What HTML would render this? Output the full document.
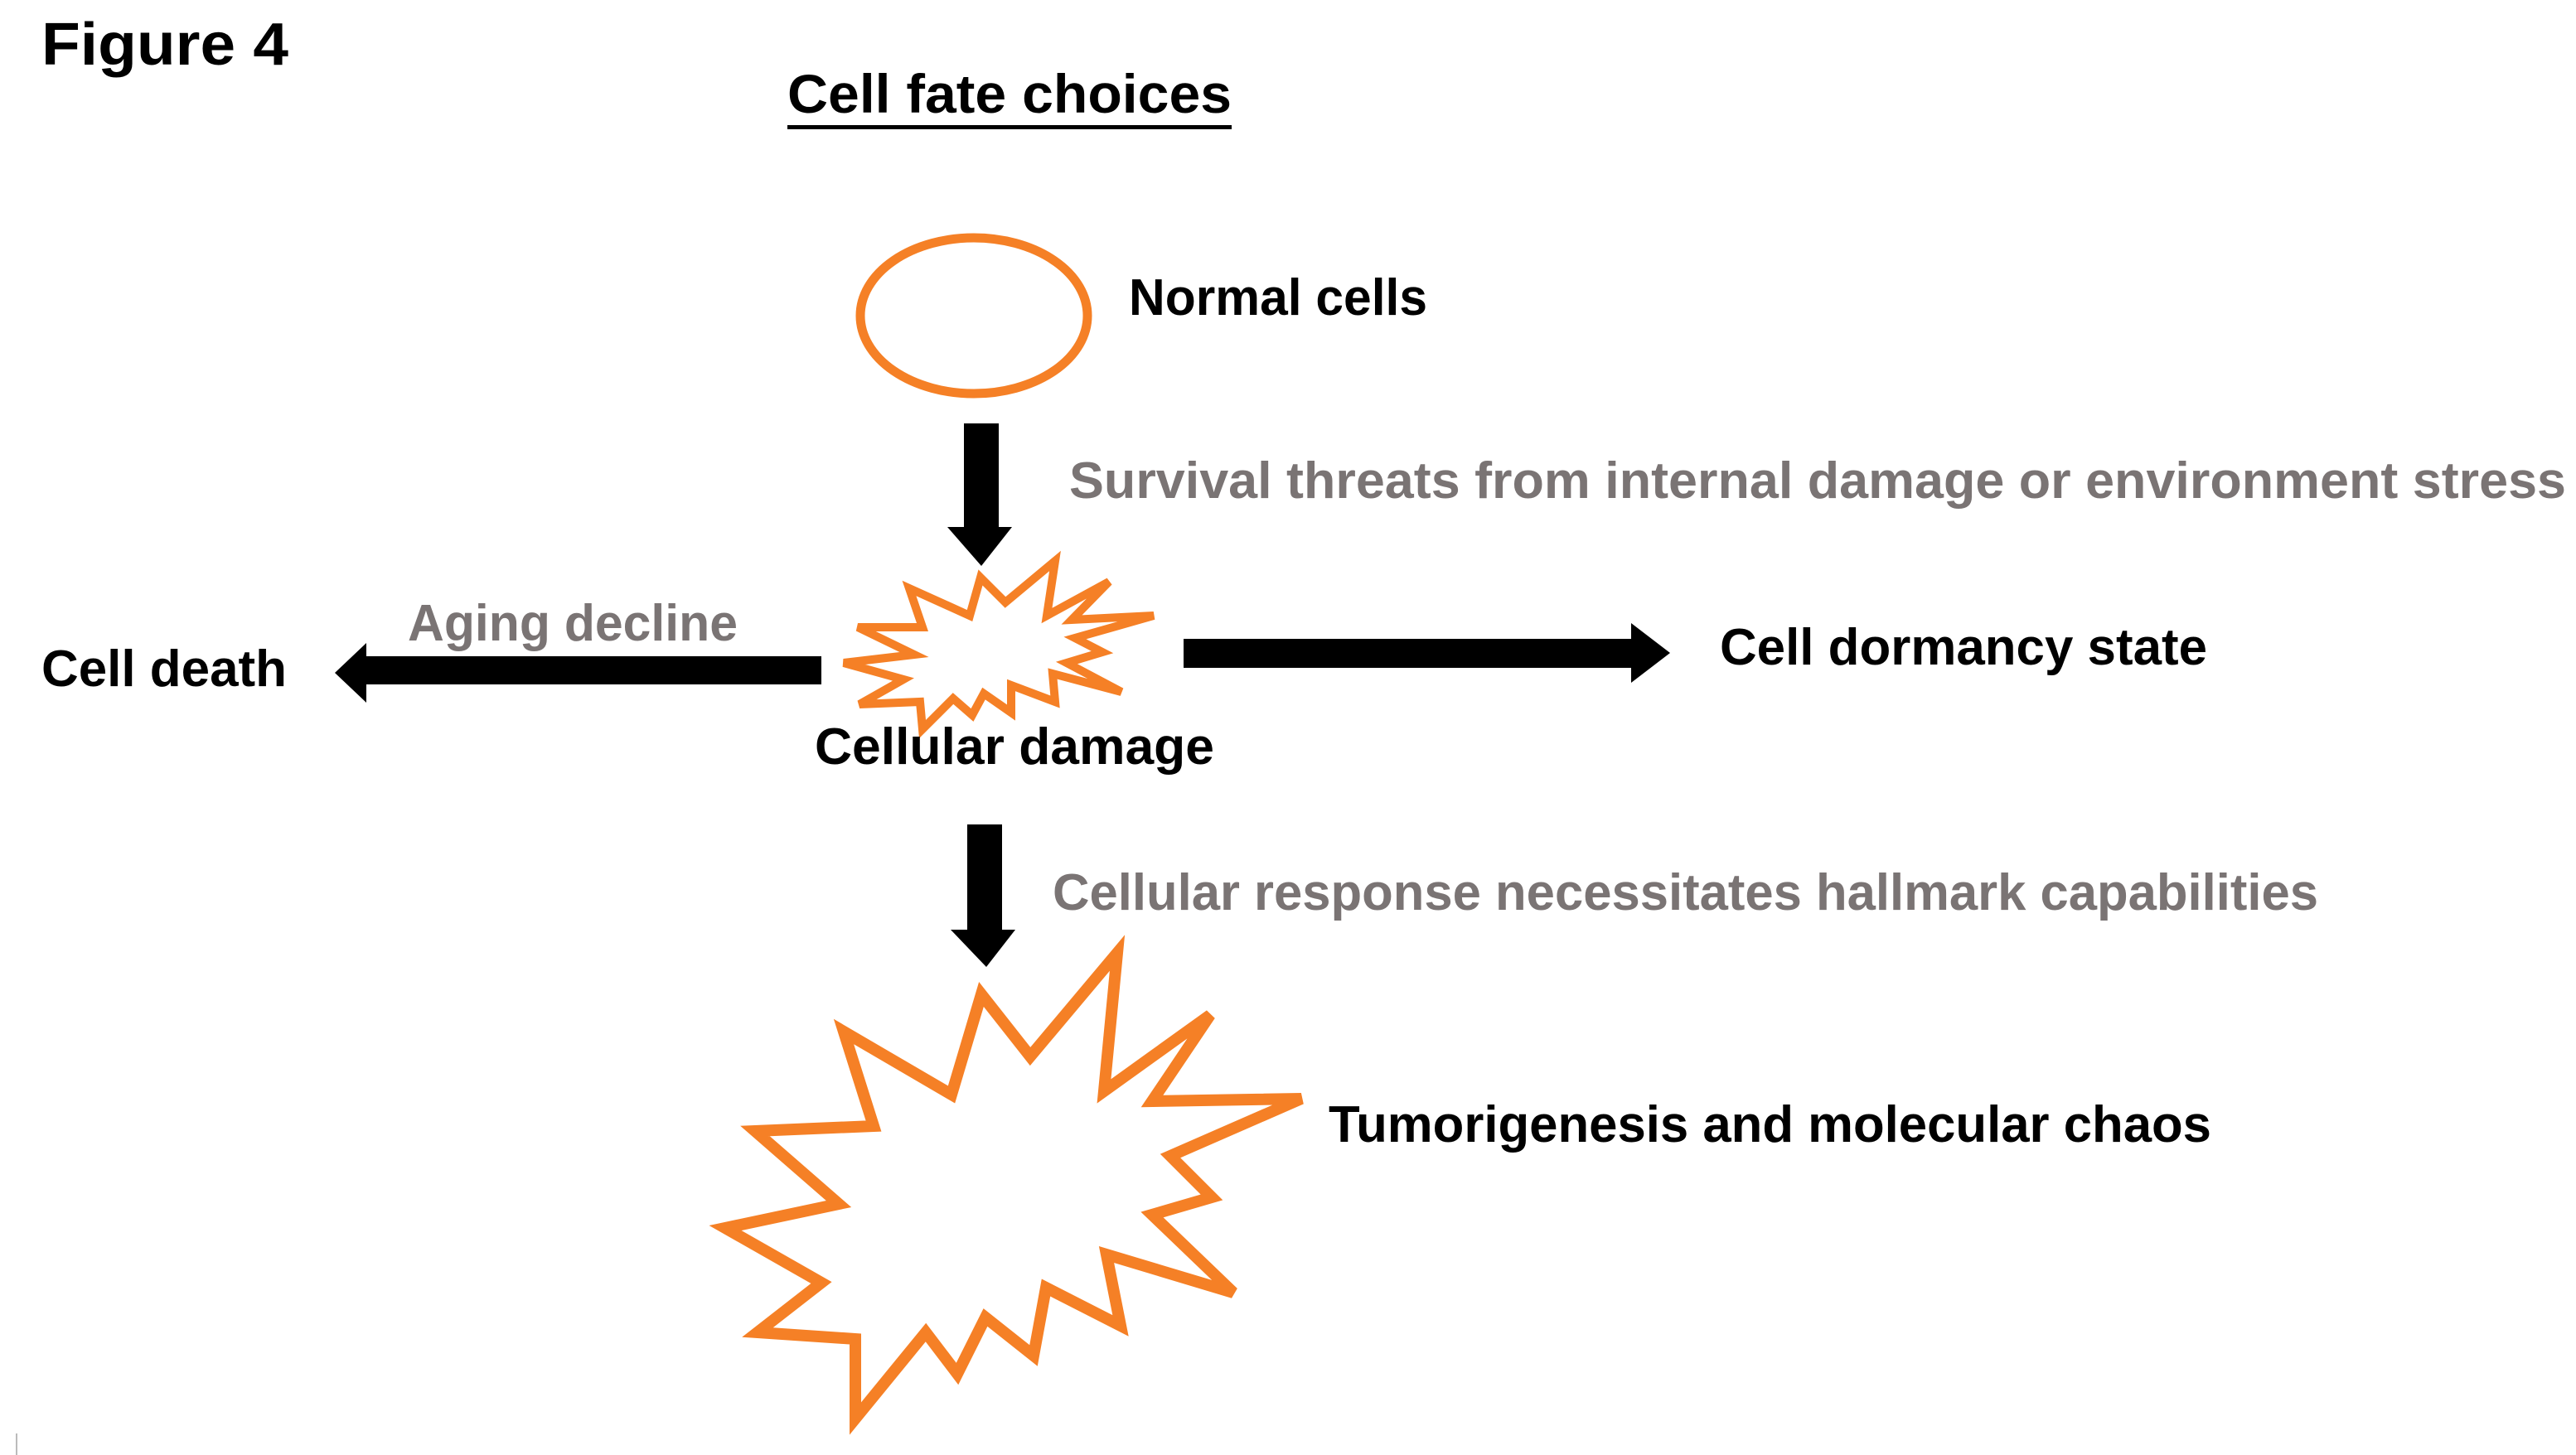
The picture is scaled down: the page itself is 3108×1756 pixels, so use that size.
<!DOCTYPE html>
<html><head><meta charset="utf-8"><style>
html,body{margin:0;padding:0;background:#fff;}
svg{display:block;}
text{font-family:"Liberation Sans",sans-serif;font-weight:bold;}
</style></head><body>
<svg width="3108" height="1756" viewBox="0 0 3108 1756" xmlns="http://www.w3.org/2000/svg">
<rect width="3108" height="1756" fill="#fff"/>
<text x="50" y="78" font-size="72" textLength="298" lengthAdjust="spacingAndGlyphs" fill="#000">Figure 4</text>
<text x="950" y="136" font-size="66" textLength="536" lengthAdjust="spacingAndGlyphs" fill="#000">Cell fate choices</text>
<rect x="950" y="151" width="536" height="5" fill="#000"/>

<ellipse cx="1175" cy="381" rx="137" ry="94" fill="none" stroke="#f58026" stroke-width="11"/>
<text x="1362" y="380" font-size="62" textLength="360" lengthAdjust="spacingAndGlyphs" fill="#000">Normal cells</text>

<!-- down arrow 1 -->
<polygon points="1163,511 1205,511 1205,636 1221,636 1184,683 1143,636 1163,636" fill="#000"/>
<text x="1290" y="601" font-size="62" textLength="1806" lengthAdjust="spacingAndGlyphs" fill="#7a7474">Survival threats from internal damage or environment stress</text>

<!-- small star -->
<polygon points="1183,697 1213,727 1273,677 1263,743 1338,702 1293,748 1392,743 1297,770 1330,787 1287,800 1353,835 1270,813 1273,847 1220,827 1220,860 1187,837 1173,863 1150,843 1113,880 1110,847 1037,850 1090,820 1018,800 1103,790 1035,757 1113,757 1097,710 1170,743" fill="#fff" stroke="#f58026" stroke-width="10" stroke-linejoin="miter"/>

<!-- left arrow -->
<polygon points="991,792 991,826 442,826 442,848 404,812 442,776 442,792" fill="#000"/>
<text x="492" y="773" font-size="62" textLength="398" lengthAdjust="spacingAndGlyphs" fill="#7a7474">Aging decline</text>
<text x="50" y="828" font-size="62" textLength="296" lengthAdjust="spacingAndGlyphs" fill="#000">Cell death</text>

<!-- right arrow -->
<polygon points="1428,771 1968,771 1968,752 2015,788 1968,824 1968,806 1428,806" fill="#000"/>
<text x="2075" y="802" font-size="62" textLength="588" lengthAdjust="spacingAndGlyphs" fill="#000">Cell dormancy state</text>

<text x="983" y="922" font-size="62" textLength="482" lengthAdjust="spacingAndGlyphs" fill="#000">Cellular damage</text>

<!-- down arrow 2 -->
<polygon points="1167,995 1209,995 1209,1122 1225,1122 1190,1167 1147,1122 1167,1122" fill="#000"/>
<text x="1270" y="1098" font-size="62" textLength="1527" lengthAdjust="spacingAndGlyphs" fill="#7a7474">Cellular response necessitates hallmark capabilities</text>

<!-- big star -->
<polygon points="1184,1200 1243,1275 1348,1150 1332,1317 1460,1225 1390,1329 1570,1326 1412,1395 1462,1445 1390,1466 1488,1560 1335,1514 1352,1600 1262,1554 1247,1636 1189,1590 1155,1658 1117,1608 1032,1712 1032,1616 914,1608 991,1548 875,1482 1012,1453 911,1365 1054,1359 1018,1245 1148,1321" fill="#fff" stroke="#f58026" stroke-width="14" stroke-linejoin="miter"/>
<text x="1603" y="1378" font-size="62" textLength="1065" lengthAdjust="spacingAndGlyphs" fill="#000">Tumorigenesis and molecular chaos</text>

<rect x="19" y="1730" width="2" height="26" fill="#bbb"/>
</svg>
</body></html>
